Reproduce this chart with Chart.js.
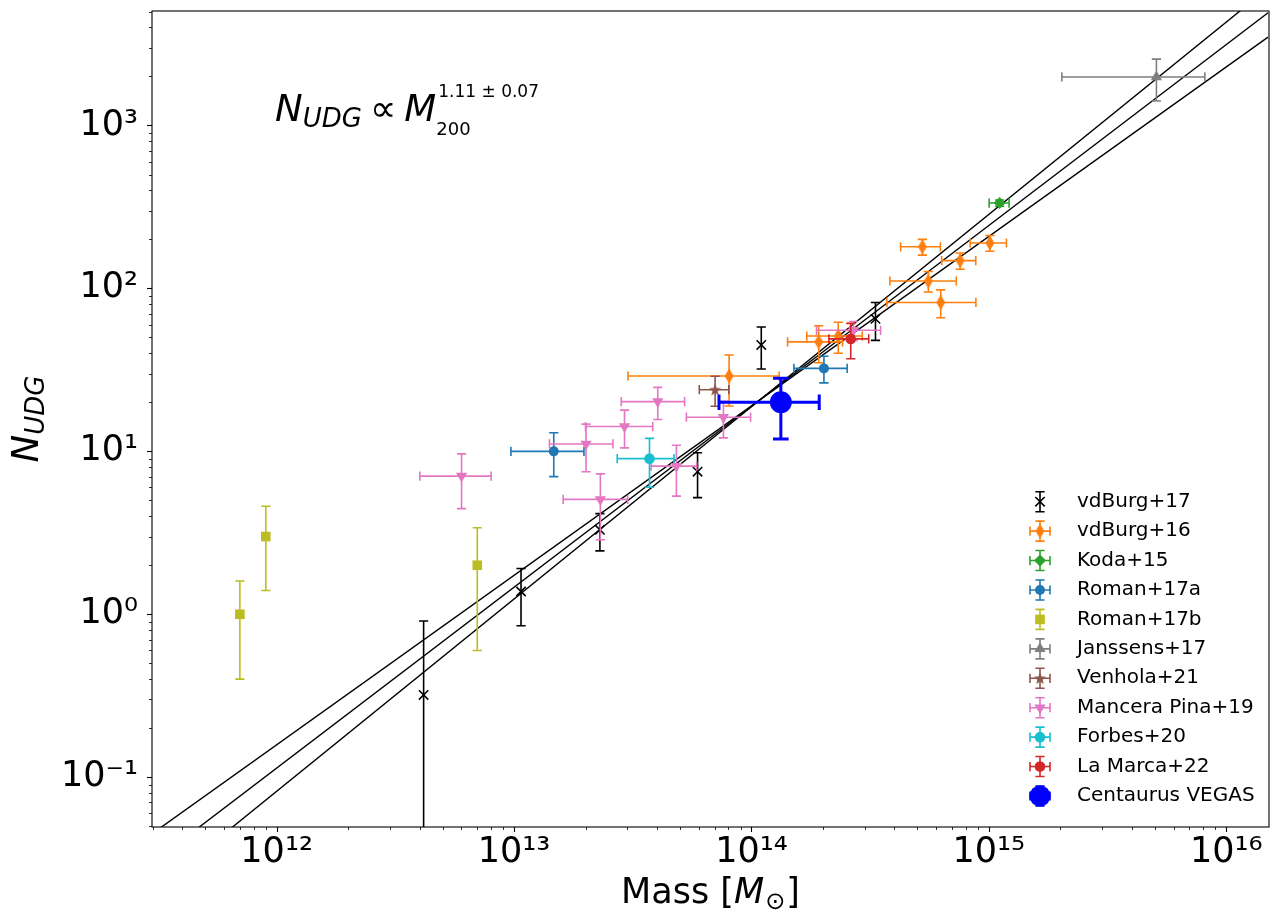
<!DOCTYPE html>
<html><head><meta charset="utf-8">
<script src="https://cdn.jsdelivr.net/npm/chart.js@4/dist/chart.umd.min.js"></script>
<style>html,body{margin:0;padding:0;background:#fff}#wrap{width:1280px;height:915px;position:relative}</style>
</head><body><div id="wrap"><canvas id="c"></canvas></div>
<script>
// ---------- axis ticks ----------
const massTicks = [1e12, 1e13, 1e14, 1e15, 1e16];
const nTicks = [0.1, 1, 10, 100, 1000];
const massRange = [2.985e11, 1.514e16];
const nRange = [0.0495, 5040];

// ---------- fit lines (endpoints) ----------
const fitM = [3e11, 1.5e16];
const fitLow = [0.0452, 3483];    // slope 1.04
const fitMid = [0.0299, 4920];    // slope 1.11
const fitHigh = [0.0198, 6950];   // slope 1.18

// ---------- data ----------
// vdBurg+17
const vdB17_M = [4.16e12, 1.07e13, 2.30e13, 5.93e13, 1.10e14, 3.33e14];
const vdB17_N = [0.32, 1.38, 3.3, 7.5, 45, 65];
const vdB17_Nerr = [0.59, 0.53, 0.85, 2.3, 13, 17];
// vdBurg+16
const vdB16_M = [8.05e13, 1.92e14, 2.32e14, 5.25e14, 5.56e14, 6.27e14, 7.57e14, 1.01e15];
const vdB16_Merr = [5.03e13, 0.5e14, 0.61e14, 1.0e14, 1.73e14, 2.55e14, 1.24e14, 1.76e14];
const vdB16_N = [29, 47, 51, 180, 111, 82, 148, 190];
const vdB16_Nerr = [10, 12, 11, 20, 16, 16, 17, 21];
// Koda+15
const koda_M = [1.11e15];
const koda_Merr = [1.07e14];
const koda_N = [334];
const koda_Nerr = [15];
// Roman+17a
const r17a_M = [1.47e13, 2.02e14];
const r17a_Merr = [0.5e13, 0.51e14];
const r17a_N = [10, 32.3];
const r17a_Nerr = [3, 6];
// Roman+17b
const r17b_M = [7.0e11, 9.0e11, 7.0e12];
const r17b_N = [1.0, 3.0, 2.0];
const r17b_Nerr = [0.6, 1.6, 1.4];
// Janssens+17
const jan_M = [5.08e15];
const jan_Merr = [3.05e15];
const jan_N = [1984];
const jan_Nerr = [570];
// Venhola+21
const ven_M = [7.03e13];
const ven_Merr = [1.0e13];
const ven_N = [23.9];
const ven_Nerr = [5];
// Mancera Pina+19
const mp_M = [6.01e12, 2.01e13, 2.92e13, 4.03e13, 2.31e13, 4.83e13, 7.62e13, 2.69e14];
const mp_Merr = [2.0e12, 0.6e13, 0.92e13, 1.2e13, 0.7e13, 1.05e13, 2.3e13, 0.81e14];
const mp_N = [7.05, 11.1, 14.2, 20.2, 5.07, 8.11, 16.2, 55.3];
const mp_Nerr = [2.6, 3.6, 3.7, 4.5, 2.2, 2.8, 4.1, 7.3];
// Forbes+20
const fb_M = [3.72e13];
const fb_Merr = [1.0e13];
const fb_N = [9.02];
const fb_Nerr = [3.0];
// La Marca+22
const lm_M = [2.62e14];
const lm_Merr = [0.5e14];
const lm_N = [49];
const lm_Nerr = [12];
// Centaurus VEGAS
const cen_M = [1.33e14];
const cen_Merr = [0.6e14];
const cen_N = [20.0];
const cen_Nerr = [8.1];

// ---------- styles ----------
const COL = {black:'#000000', orange:'#ff7f0e', green:'#2ca02c', blue:'#1f77b4', olive:'#bcbd22',
  grey:'#7f7f7f', brown:'#8c564b', pink:'#e377c2', cyan:'#17becf', red:'#d62728', vegas:'#0000ff'};
const FONT = '"DejaVu Sans", "Liberation Sans", sans-serif';

function mkCanvas(w, h, draw){ const c = document.createElement('canvas'); c.width = w; c.height = h; draw(c.getContext('2d')); return c; }
const thinDiamond = mkCanvas(10, 16, g => { g.fillStyle = COL.orange; g.beginPath(); g.moveTo(5,0.5); g.lineTo(9.5,8); g.lineTo(5,15.5); g.lineTo(0.5,8); g.closePath(); g.fill(); });
const starImg = mkCanvas(14, 14, g => { g.fillStyle = COL.brown; g.beginPath(); for (let i = 0; i < 10; i++) { const r = i % 2 ? 2.7 : 6.5; const a = -Math.PI/2 + i*Math.PI/5; g.lineTo(7 + r*Math.cos(a), 7.5 + r*Math.sin(a)); } g.closePath(); g.fill(); });

const series = [
  {label:'vdBurg+17', M:vdB17_M, N:vdB17_N, Nerr:vdB17_Nerr, color:COL.black, style:'crossRot', r:6.6, bw:1.6},
  {label:'vdBurg+16', M:vdB16_M, Merr:vdB16_Merr, N:vdB16_N, Nerr:vdB16_Nerr, color:COL.orange, style:thinDiamond, r:5},
  {label:'Koda+15', M:koda_M, Merr:koda_Merr, N:koda_N, Nerr:koda_Nerr, color:COL.green, style:'rectRot', r:6},
  {label:'Roman+17a', M:r17a_M, Merr:r17a_Merr, N:r17a_N, Nerr:r17a_Nerr, color:COL.blue, style:'circle', r:5},
  {label:'Roman+17b', M:r17b_M, N:r17b_N, Nerr:r17b_Nerr, color:COL.olive, style:'rect', r:6.8},
  {label:'Janssens+17', M:jan_M, Merr:jan_Merr, N:jan_N, Nerr:jan_Nerr, color:COL.grey, style:'triangle', r:6.5},
  {label:'Venhola+21', M:ven_M, Merr:ven_Merr, N:ven_N, Nerr:ven_Nerr, color:COL.brown, style:starImg, r:5},
  {label:'Mancera Pina+19', M:mp_M, Merr:mp_Merr, N:mp_N, Nerr:mp_Nerr, color:COL.pink, style:'triangle', rot:180, r:6.5},
  {label:'Forbes+20', M:fb_M, Merr:fb_Merr, N:fb_N, Nerr:fb_Nerr, color:COL.cyan, style:'circle', r:5.3},
  {label:'La Marca+22', M:lm_M, Merr:lm_Merr, N:lm_N, Nerr:lm_Nerr, color:COL.red, style:'circle', r:5.3},
  {label:'Centaurus VEGAS', M:cen_M, Merr:cen_Merr, N:cen_N, Nerr:cen_Nerr, color:COL.vegas, style:'circle', r:11, lw:3, cap:7.8, legendR:10.5}
];

const datasets = [];
[fitLow, fitMid, fitHigh].forEach((f, k) => {
  datasets.push({type:'scatter', label:'fit'+k, data: fitM.map((m,i)=>({x:m, y:f[i]})), showLine:true,
    borderColor:'#000', borderWidth:1.4, pointRadius:0, fill:false, order:100, isFit:true});
});
series.forEach((s, i) => {
  datasets.push({type:'scatter', label:s.label, data: s.M.map((m,j)=>({x:m, y:s.N[j]})),
    pointStyle:s.style, pointRadius:s.r, pointRotation:s.rot||0, backgroundColor:s.color, borderColor:s.color,
    borderWidth:s.bw||0, order:50-i, ser:s});
});

// ---------- helpers ----------
const SUP = {'0':'⁰','1':'¹','2':'²','3':'³','4':'⁴','5':'⁵','6':'⁶','7':'⁷','8':'⁸','9':'⁹','-':'⁻'};
function powLabel(v){ const e = Math.round(Math.log10(v)); return '10' + String(e).split('').map(c=>SUP[c]).join(''); }

function drawErr(chart, ds){
  const s = ds.ser; if (!s) return;
  const xs = chart.scales.x, ys = chart.scales.y, ca = chart.chartArea, ctx = chart.ctx;
  const lw = s.lw || 1.6, cap = s.cap || 4.6;
  ctx.save();
  ctx.beginPath(); ctx.rect(ca.left, ca.top, ca.right-ca.left, ca.bottom-ca.top); ctx.clip();
  ctx.strokeStyle = s.color; ctx.lineWidth = lw; ctx.lineCap = 'butt';
  s.M.forEach((m, i) => {
    const px = xs.getPixelForValue(m), py = ys.getPixelForValue(s.N[i]);
    ctx.beginPath();
    if (s.Nerr) {
      const e = s.Nerr[i];
      const top = ys.getPixelForValue(s.N[i] + e);
      const lo = s.N[i] - e;
      const bot = lo > 0 ? ys.getPixelForValue(lo) : ca.bottom + 20;
      ctx.moveTo(px, top); ctx.lineTo(px, bot);
      ctx.moveTo(px - cap, top); ctx.lineTo(px + cap, top);
      if (lo > 0) { ctx.moveTo(px - cap, bot); ctx.lineTo(px + cap, bot); }
    }
    if (s.Merr) {
      const e = s.Merr[i];
      const l = xs.getPixelForValue(m - e), r = xs.getPixelForValue(m + e);
      ctx.moveTo(l, py); ctx.lineTo(r, py);
      ctx.moveTo(l, py - cap); ctx.lineTo(l, py + cap);
      ctx.moveTo(r, py - cap); ctx.lineTo(r, py + cap);
    }
    ctx.stroke();
  });
  ctx.restore();
}

function text(ctx, s, x, y, font, align){ ctx.font = font; ctx.textAlign = align || 'left'; ctx.textBaseline = 'alphabetic'; ctx.fillText(s, x, y); return ctx.measureText(s).width; }

const decor = {
  id:'decor',
  beforeDatasetDraw(chart, args){ drawErr(chart, chart.data.datasets[args.index]); },
  afterDraw(chart){
    const ctx = chart.ctx, ca = chart.chartArea, xs = chart.scales.x, ys = chart.scales.y;
    ctx.save();
    ctx.fillStyle = '#000'; ctx.strokeStyle = '#000';
    // spines
    ctx.lineWidth = 1.1;
    ctx.strokeRect(ca.left, ca.top, ca.right - ca.left, ca.bottom - ca.top);
    // ticks
    for (let e = 11; e <= 16; e++) for (let k = 1; k <= 9; k++) {
      const v = k * Math.pow(10, e); if (v < massRange[0] || v > massRange[1]) continue;
      const p = Math.round(xs.getPixelForValue(v)) + 0.5;
      ctx.lineWidth = k === 1 ? 1.1 : 0.8;
      ctx.beginPath(); ctx.moveTo(p, ca.bottom); ctx.lineTo(p, ca.bottom + (k === 1 ? 5 : 3)); ctx.stroke();
    }
    for (let e = -2; e <= 3; e++) for (let k = 1; k <= 9; k++) {
      const v = k * Math.pow(10, e); if (v < nRange[0] || v > nRange[1]) continue;
      const p = Math.round(ys.getPixelForValue(v)) + 0.5;
      ctx.lineWidth = k === 1 ? 1.1 : 0.8;
      ctx.beginPath(); ctx.moveTo(ca.left, p); ctx.lineTo(ca.left - (k === 1 ? 5 : 3), p); ctx.stroke();
    }
    // x title: Mass [M_sun]
    const f1 = '35px ' + FONT, fi = 'italic 35px ' + FONT, fs = '24px ' + FONT;
    ctx.font = f1; const w1 = ctx.measureText('Mass [').width, w4 = ctx.measureText(']').width;
    ctx.font = fi; const w2 = ctx.measureText('M').width;
    ctx.font = fs; const w3 = ctx.measureText('⊙').width;
    let x0 = (ca.left + ca.right)/2 - (w1 + w2 + w3 + w4 + 2)/2, yb = 903;
    x0 += text(ctx, 'Mass [', x0, yb, f1);
    x0 += text(ctx, 'M', x0, yb, fi) + 1;
    x0 += text(ctx, '⊙', x0, yb + 6, fs) + 1;
    text(ctx, ']', x0, yb, f1);
    // y title: N_UDG
    ctx.save();
    ctx.translate(38, (ca.top + ca.bottom)/2);
    ctx.rotate(-Math.PI/2);
    const fn = 'italic 37px ' + FONT, fsub = 'italic 26px ' + FONT;
    ctx.font = fn; const wn = ctx.measureText('N').width;
    ctx.font = fsub; const wu = ctx.measureText('UDG').width;
    let lx = -(wn + wu)/2;
    lx += text(ctx, 'N', lx, 0, fn);
    text(ctx, 'UDG', lx, 6, fsub);
    ctx.restore();
    // annotation
    const fa = 'italic 37px ' + FONT;
    let ax = 275;
    ax += text(ctx, 'N', ax, 121, fa);
    ax += text(ctx, 'UDG', ax, 127, 'italic 26px ' + FONT);
    ax += 8;
    ax += text(ctx, '∝', ax, 121, '37px ' + FONT);
    ax += 8;
    ax += text(ctx, 'M', ax, 121, fa);
    text(ctx, '1.11 ± 0.07', ax + 2, 97, '17px ' + FONT);
    text(ctx, '200', ax, 135, '18px ' + FONT);
    // legend
    const lx0 = 1040, tx = 1077, ly0 = 501.7, step = 29.43;
    series.forEach((s, i) => {
      const y = ly0 + i * step;
      ctx.strokeStyle = s.color; ctx.fillStyle = s.color; ctx.lineWidth = 1.6;
      ctx.beginPath();
      ctx.moveTo(lx0, y - 10); ctx.lineTo(lx0, y + 10);
      ctx.moveTo(lx0 - 4.6, y - 10); ctx.lineTo(lx0 + 4.6, y - 10);
      ctx.moveTo(lx0 - 4.6, y + 10); ctx.lineTo(lx0 + 4.6, y + 10);
      if (s.Merr) {
        ctx.moveTo(lx0 - 10, y); ctx.lineTo(lx0 + 10, y);
        ctx.moveTo(lx0 - 10, y - 4.6); ctx.lineTo(lx0 - 10, y + 4.6);
        ctx.moveTo(lx0 + 10, y - 4.6); ctx.lineTo(lx0 + 10, y + 4.6);
      }
      ctx.stroke();
      Chart.helpers.drawPoint(ctx, {pointStyle: s.style, radius: s.legendR || s.r, rotation: s.rot || 0, borderWidth: s.bw || 0}, lx0, y);
      ctx.fillStyle = '#000';
      ctx.font = '20px ' + FONT; ctx.textAlign = 'left'; ctx.textBaseline = 'middle';
      ctx.fillText(s.label, tx, y);
    });
    ctx.restore();
  }
};

new Chart(document.getElementById('c'), {
  type: 'scatter',
  data: { datasets },
  options: {
    responsive: true, maintainAspectRatio: false, animation: false, events: [],
    layout: { padding: { left: 0, top: 7, right: 8, bottom: 0 } },
    plugins: { legend: { display: false }, tooltip: { enabled: false } },
    scales: {
      x: {
        type: 'logarithmic', min: massRange[0], max: massRange[1],
        grid: { display: false, drawTicks: false }, border: { display: false },
        afterBuildTicks: s => { s.ticks = massTicks.map(v => ({ value: v })); },
        afterFit: s => { s.height = 88; s.paddingLeft = 0; s.paddingRight = 0; s.paddingTop = 0; s.paddingBottom = 0; },
        ticks: { autoSkip: false, maxRotation: 0, minRotation: 0, padding: 5, color: '#000',
          font: { family: FONT, size: 35 }, callback: v => powLabel(v) }
      },
      y: {
        type: 'logarithmic', min: nRange[0], max: nRange[1],
        grid: { display: false, drawTicks: false }, border: { display: false },
        afterBuildTicks: s => { s.ticks = nTicks.map(v => ({ value: v })); },
        afterFit: s => { s.width = 152; s.paddingLeft = 0; s.paddingRight = 0; s.paddingTop = 0; s.paddingBottom = 0; },
        ticks: { autoSkip: false, padding: 14, color: '#000',
          font: { family: FONT, size: 35 }, callback: v => powLabel(v) }
      }
    }
  },
  plugins: [decor]
});
</script></body></html>
